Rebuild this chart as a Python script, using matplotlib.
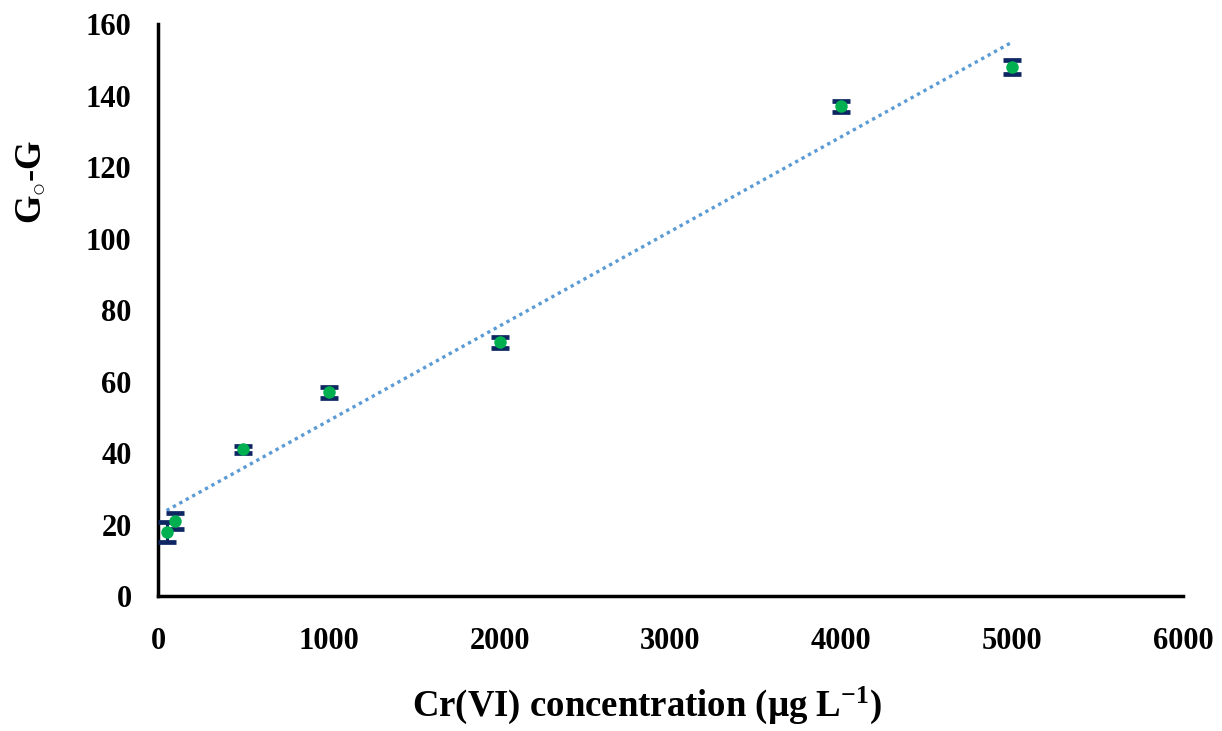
import matplotlib
matplotlib.use("Agg")
import matplotlib.pyplot as plt
import numpy as np

conc = [50, 100, 500, 1000, 2000, 4000, 5000]
g_diff = [18, 21, 41, 57, 71, 137, 148]
g_err = [2.8, 2.2, 1.0, 1.5, 1.6, 1.5, 2.0]

x_ticks = [0, 1000, 2000, 3000, 4000, 5000, 6000]
y_ticks = [0, 20, 40, 60, 80, 100, 120, 140, 160]

plt.rcParams['font.family'] = ['Liberation Serif', 'DejaVu Serif']
plt.rcParams['font.weight'] = 'bold'
plt.rcParams['mathtext.fontset'] = 'custom'
plt.rcParams['mathtext.rm'] = 'Liberation Serif:bold'
plt.rcParams['mathtext.it'] = 'Liberation Serif:bold'
plt.rcParams['mathtext.bf'] = 'Liberation Serif:bold'

fig = plt.figure(figsize=(12.22, 7.31), dpi=100)
ax = fig.add_axes([0.1293, 0.1847, 0.8387, 0.7823])

# trendline
coef = np.polyfit(conc, g_diff, 1)
xt = np.array([min(conc), max(conc)])
ax.plot(xt, np.polyval(coef, xt), linestyle=(0, (1, 1.2)), color='#5B9BD5', lw=2.4, zorder=2)

ax.errorbar(conc, g_diff, yerr=g_err, fmt='none', ecolor='#0E2661', elinewidth=2.2,
            capsize=6.5, capthick=3.4, zorder=3)
ax.plot(conc, g_diff, 'o', color='#00B050', markersize=9, zorder=4, markeredgewidth=0)

ax.set_xlim(0, 6000)
ax.set_ylim(0, 160)
ax.set_xticks(x_ticks)
ax.set_yticks(y_ticks)
ax.tick_params(length=0, labelsize=22)
ax.tick_params(axis='x', pad=22)
ax.tick_params(axis='y', pad=19)
for lab in ax.get_xticklabels() + ax.get_yticklabels():
    lab.set_fontweight('bold')

for s in ['top', 'right']:
    ax.spines[s].set_visible(False)
for s in ['left', 'bottom']:
    ax.spines[s].set_linewidth(2.5)
    ax.spines[s].set_color('black')

ax.set_xlabel('Cr(VI) concentration (µg L$^{−1}$)', fontsize=26.5, fontweight='bold')
ax.xaxis.set_label_coords((647 - 158) / 1025, -(705 - 596) / 572, transform=ax.transAxes)
ax.xaxis.label.set_va('center')
ax.set_ylabel(r'G$_{\circ}$-G', fontsize=26.5, fontweight='bold')
ax.yaxis.set_label_coords(-(158 - 31) / 1025, (596 - 182) / 572, transform=ax.transAxes)
ax.yaxis.label.set_va('center')

fig.savefig('out.png', dpi=100)
